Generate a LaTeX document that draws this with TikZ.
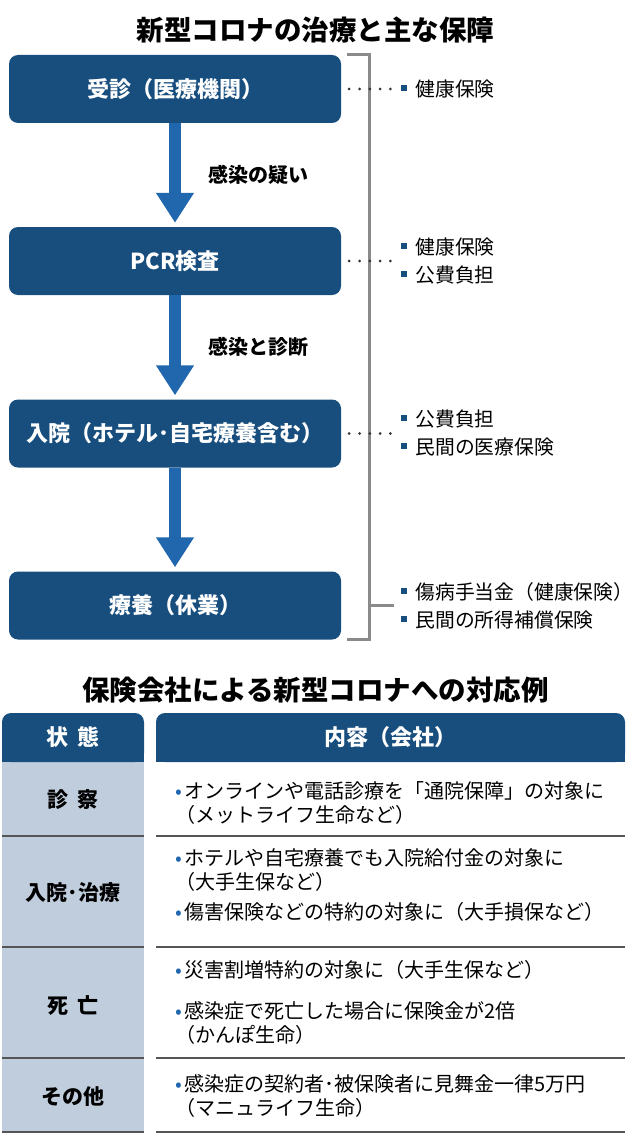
\documentclass[tikz,border=0pt]{standalone}
\usepackage{fontspec}
\setmainfont{Noto Sans CJK JP}
\usetikzlibrary{arrows.meta,backgrounds,positioning}

\definecolor{navy}{HTML}{174E7E}
\definecolor{flowblue}{HTML}{2167AE}
\definecolor{colgray}{HTML}{C0CDDC}
\definecolor{brackgray}{HTML}{8A8A8A}
\definecolor{linegray}{HTML}{555555}

\newcommand{\fsz}[1]{\fontsize{#1}{#1}\selectfont}
\newcommand{\sqmark}{\textcolor{navy}{\rule[0.28em]{6pt}{6pt}}\hspace{8pt}}
\newcommand{\dotmark}{\makebox[9pt][l]{\textcolor{flowblue}{•}}}

\begin{document}
\begin{tikzpicture}[x=1pt, y=-1pt, >=Stealth,
   stepbox/.style={fill=navy, rounded corners=9pt, minimum width=332pt, minimum height=68pt, text=white, font=\fsz{22}\bfseries},
   flow/.style={draw=flowblue, line width=12pt, -{Triangle[width=36pt, length=30pt]}, shorten >=4pt},
   flowlabel/.style={inner sep=0pt, font=\fsz{20}\bfseries},
   dots/.style={draw=black!80, line width=3pt, dash pattern=on 0pt off 10.3pt, line cap=round, shorten <=8pt},
   cover/.style={inner sep=0pt, align=left, font=\fontsize{19.8}{28}\selectfont},
   bracket/.style={draw=brackgray, line width=3pt},
   headcell/.style={fill=navy, rounded corners=9pt, minimum height=49pt, text=white, font=\fsz{22}\bfseries},
   statecell/.style={font=\fsz{21}\bfseries},
   item/.style={inner sep=0pt, align=left, anchor=west, font=\fontsize{20}{24}\selectfont},
   rowline/.style={draw=linegray, line width=1.2pt}]

   \useasboundingbox (0,0) rectangle (632,1137);

   % flow of treatment
   \node[font=\fsz{27.5}\bfseries] (title) at (315.5,30) {新型コロナの治療と主な保障};
   \node[stepbox] (b1) at (175,89) {受診（医療機関）};
   \node[stepbox] (b2) at (175,261) {PCR検査};
   \node[stepbox] (b3) at (175,433.5) {入院（ホテル･自宅療養含む）};
   \node[stepbox] (b4) at (175,605.5) {療養（休業）};

   \draw[flow] (b1) -- node[flowlabel, right=27pt] (q1) {感染の疑い} (b2);
   \draw[flow] (b2) -- node[flowlabel, right=27pt] (q2) {感染と診断} (b3);
   \draw[flow] (b3) -- (b4);

   \draw[bracket] ([xshift=6pt]b1.north east) -| ([xshift=28pt]b4.south east)
                  -- ([xshift=6pt]b4.south east);
   \draw[bracket] ([xshift=28pt]b4.east) -- ++(25,0);

   \coordinate (d1) at ([xshift=51pt]b1.east);
   \coordinate (d2) at ([xshift=51pt]b2.east);
   \coordinate (d3) at ([xshift=51pt]b3.east);
   \coordinate (d4) at ([xshift=51pt]b4.east);
   \draw[dots] (b1.east) -- (d1);
   \draw[dots] (b2.east) -- (d2);
   \draw[dots] (b3.east) -- (d3);

   \node[cover, right=9pt of d1] (c1) {\sqmark 健康保険};
   \node[cover, right=9pt of d2] (c2) {\sqmark 健康保険\\\sqmark 公費負担};
   \node[cover, right=9pt of d3] (c3) {\sqmark 公費負担\\\sqmark 民間の医療保険};
   \node[cover, right=9pt of d4] (c4) {\sqmark 傷病手当金（健康保険）\\\sqmark 民間の所得補償保険};

   % insurers' table
   \node[font=\fsz{27.5}\bfseries] (title2) at (315.5,690) {保険会社による新型コロナへの対応例};
   \node[headcell, minimum width=142pt] (hstate) at (73,737.5) {状\hspace{0.45em}態};
   \node[headcell, minimum width=469pt] (hcont) at (390.5,737.5) {内容（会社）};
   \begin{scope}[on background layer]
      \fill[navy] (hstate.west) rectangle (hstate.south east);
      \fill[navy] (hcont.west) rectangle (hcont.south east);
      \fill[colgray] (hstate.south west) rectangle (hstate.east |- 0,1132);
   \end{scope}
   \foreach \yy in {836,947,1058,1132} {
      \draw[rowline] (hstate.west |- 0,\yy) -- (hstate.east |- 0,\yy);
      \draw[rowline] (hcont.west |- 0,\yy) -- (hcont.east |- 0,\yy);
   }

   \node[statecell] (s1) at (73,800) {診\hspace{0.45em}察};
   \node[statecell] (s2) at (73,893) {入院･治療};
   \node[statecell] (s3) at (73,1005) {死\hspace{0.45em}亡};
   \node[statecell] (s4) at (73,1097) {その他};

   \node[item] (t1) at (175,802.5) {\dotmark オンラインや電話診療を「通院保障」の対象に\\（メットライフ生命など）};
   \node[item] (t2) at (175,870) {\dotmark ホテルや自宅療養でも入院給付金の対象に\\（大手生保など）};
   \node[item] (t3) at (175,912) {\dotmark 傷害保険などの特約の対象に（大手損保など）};
   \node[item] (t4) at (175,970) {\dotmark 災害割増特約の対象に（大手生保など）};
   \node[item] (t5) at (175,1022.5) {\dotmark 感染症で死亡した場合に保険金が2倍\\（かんぽ生命）};
   \node[item] (t6) at (175,1096) {\dotmark 感染症の契約者･被保険者に見舞金一律5万円\\（マニュライフ生命）};

\end{tikzpicture}
\end{document}
